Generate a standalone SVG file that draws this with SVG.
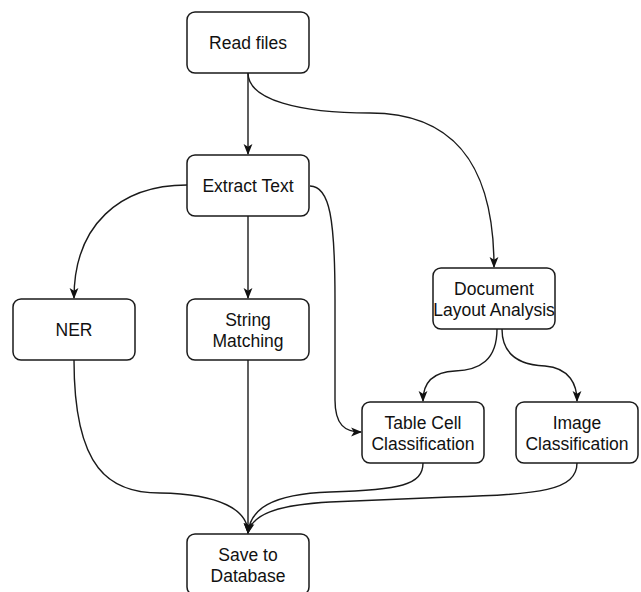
<svg xmlns="http://www.w3.org/2000/svg" width="641" height="592" viewBox="0 0 641 592">
<style>
.box{fill:#fff;stroke:#1a1a1a;stroke-width:1.5}
.t{font-family:"Liberation Sans",Arial,sans-serif;font-size:17.5px;fill:#111;text-anchor:middle}
.e{fill:none;stroke:#1a1a1a;stroke-width:1.4;marker-end:url(#arr)}
</style>
<defs>
<marker id="arr" viewBox="0 0 10 10" refX="9" refY="5" markerWidth="11" markerHeight="11" markerUnits="userSpaceOnUse" orient="auto">
<path d="M0,1 L10,5 L0,9 L2.5,5 Z" fill="#111"/>
</marker>
</defs>
<rect width="641" height="592" fill="#fff"/>
<g id="connectors">
<path class="e" d="M248,73 L248,154"/>
<path class="e" d="M248,73 C248,100 300,113 370,113 C450,113 494,160 494,267"/>
<path class="e" d="M187,185 C120,185 74,225 74,298"/>
<path class="e" d="M248,216 L248,298"/>
<path class="e" d="M310,186 C330,186 335,220 335,300 L335,400 C335,425 345,432 361,432"/>
<path class="e" d="M497,329 C497,360 480,370 455,371 C430,372 423,385 423,401"/>
<path class="e" d="M502,329 C502,355 520,365 545,366 C570,368 577,385 577,401"/>
<path class="e" d="M74,360 C74,470 110,493 160,493 C220,494 248,510 248,533"/>
<path class="e" d="M248,360 L248,533"/>
<path class="e" d="M423,463 C423,485 400,490 330,492 C270,494 250,510 248,533"/>
<path class="e" d="M577,463 C577,490 540,495 450,497 L330,502 C275,505 252,515 248,533"/>
</g>
<g id="read-files"><rect class="box" x="187" y="12" width="122" height="61" rx="8"/><text class="t" x="248" y="49">Read files</text></g>
<g id="extract-text"><rect class="box" x="187" y="155" width="122" height="61" rx="8"/><text class="t" x="248" y="192">Extract Text</text></g>
<g id="ner"><rect class="box" x="13" y="299" width="122" height="61" rx="8"/><text class="t" x="74" y="336">NER</text></g>
<g id="string-matching"><rect class="box" x="187" y="299" width="122" height="61" rx="8"/><text class="t" x="248" y="326">String</text><text class="t" x="248" y="347">Matching</text></g>
<g id="document-layout"><rect class="box" x="433" y="268" width="122" height="61" rx="8"/><text class="t" x="494" y="295">Document</text><text class="t" x="494" y="316">Layout Analysis</text></g>
<g id="table-cell"><rect class="box" x="362" y="402" width="122" height="61" rx="8"/><text class="t" x="423" y="429">Table Cell</text><text class="t" x="423" y="450">Classification</text></g>
<g id="image-classification"><rect class="box" x="516" y="402" width="122" height="61" rx="8"/><text class="t" x="577" y="429">Image</text><text class="t" x="577" y="450">Classification</text></g>
<g id="save-db"><rect class="box" x="187" y="534" width="122" height="61" rx="8"/><text class="t" x="248" y="561">Save to</text><text class="t" x="248" y="582">Database</text></g>
</svg>
